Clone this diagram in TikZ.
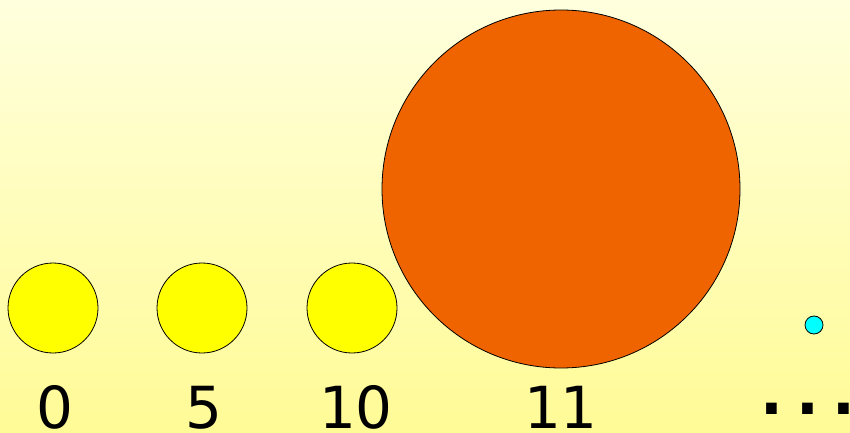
\documentclass[tikz,border=0pt]{standalone}
\usepackage{fontspec}
\setmainfont{DejaVu Sans}
\usetikzlibrary{positioning}
\definecolor{bgTop}{HTML}{FFFFDE}
\definecolor{bgBot}{HTML}{FFFB96}
\definecolor{sunO}{HTML}{F06400}
\definecolor{ballY}{HTML}{FFFF00}
\definecolor{ballC}{HTML}{00FFFF}
\tikzset{
  ball/.style={circle,draw=black,line width=0.8pt,inner sep=0pt},
  num/.style={font=\fontsize{58}{58}\selectfont,anchor=base,inner sep=0pt}
}
\begin{document}
\begin{tikzpicture}[x=1pt,y=1pt]
  \useasboundingbox (0,0) rectangle (850,432);
  \shade[top color=bgTop,bottom color=bgBot] (0,0) rectangle (850,432);
  % small yellow ones
  \node[ball,fill=ballY,minimum size=90] (b0) at (53,124) {};
  \node[ball,fill=ballY,minimum size=90] (b5) at (202,124) {};
  \node[ball,fill=ballY,minimum size=90] (b10) at (352,124) {};
  % big one
  \node[ball,fill=sunO,minimum size=358] (b11) at (561,243) {};
  \node[ball,fill=ballC,minimum size=18] (bx) at (814,107) {};
  % labels
  \node[num] (l0) at (55,4) {0};
  \node[num] (l5) at (204,4) {5};
  \node[num] (l10) at (356,4) {10};
  \node[num] (l11) at (561,4) {11};
  \node[num,anchor=base west,font=\fontsize{60}{60}\selectfont\bfseries] (ldots) at (754,18)
    {\makebox[36pt]{.}\makebox[36pt]{.}\makebox[36pt]{.}};
\end{tikzpicture}
\end{document}
